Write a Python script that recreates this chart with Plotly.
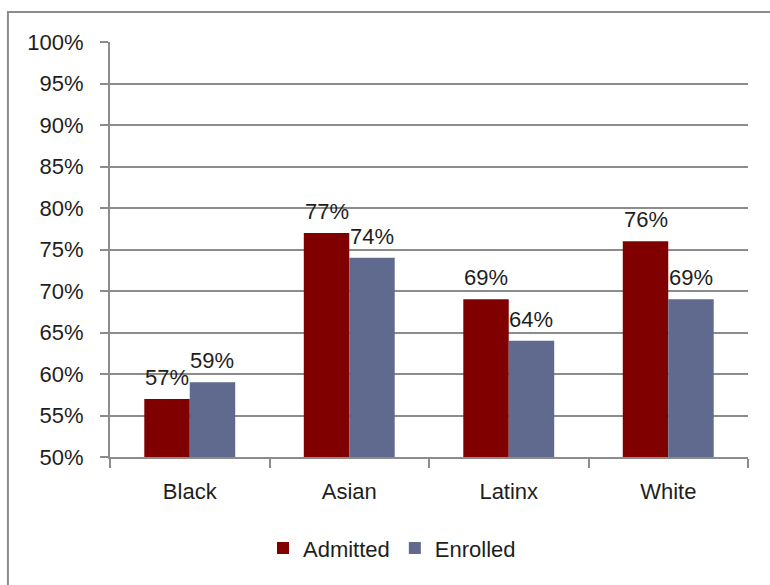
import plotly.graph_objects as go

# Share of students by group
categories = ["Black", "Asian", "Latinx", "White"]
admitted = [57, 77, 69, 76]
enrolled = [59, 74, 64, 69]
y_ticks = [50, 55, 60, 65, 70, 75, 80, 85, 90, 95, 100]

FONT = "Liberation Sans"
GRID = "#8c8c8c"
TEXT = "#1e1e1e"
BAR_GAP = 0.43
PLOT_W = 770 - 110 - 22
HALF_BAR_PX = PLOT_W / len(categories) * (1 - BAR_GAP) / 4

fig = go.Figure()
fig.add_trace(go.Bar(name="Admitted", x=categories, y=admitted,
                     marker=dict(color="#800000", line=dict(width=0))))
fig.add_trace(go.Bar(name="Enrolled", x=categories, y=enrolled,
                     marker=dict(color="#5f6a8e", line=dict(width=0))))

# value labels above each bar
annotations = []
for series, shift in ((admitted, -HALF_BAR_PX), (enrolled, HALF_BAR_PX)):
    for cat, v in zip(categories, series):
        annotations.append(dict(x=cat, y=v, xref="x", yref="y", text=f"{v}%",
                                showarrow=False, xshift=shift, yshift=7,
                                yanchor="bottom", xanchor="center",
                                font=dict(size=22, color=TEXT, family=FONT)))

fig.update_layout(
    width=770, height=585,
    margin=dict(l=110, r=22, t=42, b=128),
    paper_bgcolor="white", plot_bgcolor="white",
    barmode="group", bargap=BAR_GAP, bargroupgap=0,
    font=dict(family=FONT, size=22, color=TEXT),
    showlegend=True,
    legend=dict(orientation="h", x=0.442, xanchor="center", y=-0.22, yanchor="middle",
                font=dict(size=22), traceorder="normal"),
    xaxis=dict(
        showgrid=False, showline=True, linecolor=GRID, linewidth=2,
        ticks="outside", tickson="boundaries", ticklen=9, tickcolor=GRID, tickwidth=2,
        tickfont=dict(size=22), ticklabelstandoff=14,
    ),
    yaxis=dict(
        range=[50, 100], tickvals=y_ticks, ticktext=[f"{t}%" for t in y_ticks],
        showgrid=True, gridcolor=GRID, gridwidth=2,
        showline=True, linecolor=GRID, linewidth=2,
        ticks="outside", ticklen=8, tickcolor=GRID, tickwidth=2,
        ticklabelstandoff=12, tickfont=dict(size=22), zeroline=False,
    ),
    annotations=annotations,
    shapes=[dict(type="rect", xref="paper", yref="paper",
                 x0=-0.16, x1=1.04, y0=-0.315, y1=1.072,
                 line=dict(color=GRID, width=2), fillcolor="rgba(0,0,0,0)", layer="below")],
)

fig.write_html("out.html")
